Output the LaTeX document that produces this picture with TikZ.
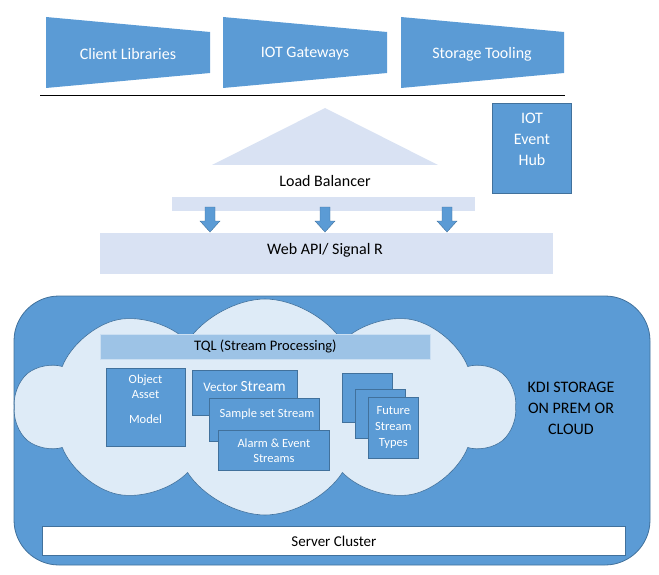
\documentclass[tikz,border=0pt]{standalone}
\usepackage{fontspec}
\setmainfont{Carlito}
\usetikzlibrary{shapes.symbols,shapes.arrows}
\definecolor{mblue}{HTML}{5B9BD5}
\definecolor{dblue}{HTML}{41719C}
\definecolor{lblue}{HTML}{D9E2F3}
\definecolor{cblue}{HTML}{DEEBF7}
\definecolor{tblue}{HTML}{9DC3E6}
\tikzset{
  blk/.style={draw=dblue, fill=mblue, line width=0.8pt, text=white, align=center, inner sep=0pt},
  lbl/.style={inner sep=0pt, align=center},
  barrow/.style={fill=mblue, draw=dblue, line width=0.4pt}
}
\begin{document}
\begin{tikzpicture}[x=1pt,y=-1pt]
\useasboundingbox (0,0) rectangle (659,575);
% top trapezoids
\fill[mblue] (46,17) -- (210,32) -- (210,73) -- (46,88) -- cycle;
\node[lbl,text=white,font=\fontsize{16}{18}\selectfont] (cl) at (128,54) {Client Libraries};
\fill[mblue] (223,17) -- (387,32) -- (387,73) -- (223,88) -- cycle;
\node[lbl,text=white,font=\fontsize{16}{18}\selectfont] (iot) at (305,54) {IOT Gateways};
\fill[mblue] (401,17) -- (564,32) -- (564,73) -- (401,88) -- cycle;
\node[lbl,text=white,font=\fontsize{16}{18}\selectfont] (st) at (482,54) {Storage Tooling};
\draw[black, line width=0.8pt] (40,95) -- (565,95);
% load balancer
\fill[lblue] (325,108) -- (438,165) -- (212,165) -- cycle;
\node[lbl,font=\fontsize{16}{18}\selectfont] (lb) at (325,181) {Load Balancer};
\fill[lblue] (172,197) rectangle (475,211);
% IOT Event hub
\node[blk, minimum width=79pt, minimum height=90pt, anchor=north west] (hub) at (492,103) {};
\node[lbl,text=white,font=\fontsize{16}{21}\selectfont] at (532,139) {IOT\\Event\\Hub};
% Web API
\fill[lblue] (100,233) rectangle (553,274);
\node[lbl,font=\fontsize{16}{18}\selectfont] (web) at (325,250) {Web API/ Signal R};
% block arrows
\foreach \ax in {210,325,447}{
  \draw[barrow] (\ax-5,207) -- (\ax+5,207) -- (\ax+5,221) -- (\ax+10,221) -- (\ax,232) -- (\ax-10,221) -- (\ax-5,221) -- cycle;
}
% storage
\draw[fill=mblue, draw=dblue, line width=0.8pt, rounded corners=45pt] (14,296) rectangle (650,565);
\node[lbl,font=\fontsize{16}{21}\selectfont] (kdi) at (571,408) {KDI STORAGE\\ON PREM OR\\CLOUD};
\node[draw=dblue, fill=white, line width=0.8pt, minimum width=583pt, minimum height=29pt, anchor=north west, inner sep=0pt, font=\fontsize{15}{17}\selectfont] (srv) at (42,526) {Server Cluster};
% cloud
\node[cloud, cloud puffs=10, cloud puff arc=115, cloud ignores aspect, draw=dblue, fill=cblue, line width=0.6pt, minimum width=500pt, minimum height=216pt] (cloud) at (265,407) {};
% TQL
\node[fill=tblue, draw=cblue!70!tblue, line width=0.8pt, minimum width=330pt, minimum height=25pt, anchor=north west, inner sep=0pt, font=\fontsize{14.5}{16}\selectfont] (tql) at (100,334) {TQL (Stream Processing)};
% object asset
\node[blk, minimum width=79pt, minimum height=78pt, anchor=north west] (obj) at (106,368) {};
\node[lbl,text=white,font=\fontsize{12.5}{15}\selectfont, anchor=north] at (145.5,375) {Object\\Asset\\[10pt]Model};
% streams
\node[blk, minimum width=105pt, minimum height=45pt, anchor=north west] (vec) at (192,370) {};
\node[lbl,text=white,anchor=base] at (244.5,391) {\fontsize{13}{15}\selectfont Vector \fontsize{15.5}{17}\selectfont Stream};
\node[blk, minimum width=110pt, minimum height=43pt, anchor=north west] (smp) at (209,398) {};
\node[lbl,text=white,font=\fontsize{12.5}{14}\selectfont] at (267,414) {Sample set Stream};
\node[blk, minimum width=111pt, minimum height=40pt, anchor=north west, font=\fontsize{12.5}{15}\selectfont] (alm) at (218,430) {Alarm \& Event\\Streams};
% future
\node[blk, minimum width=50pt, minimum height=49pt, anchor=north west] (f1) at (342,373) {};
\node[blk, minimum width=50pt, minimum height=49pt, anchor=north west] (f2) at (355,389) {};
\node[blk, minimum width=50pt, minimum height=61pt, anchor=north west, font=\fontsize{12.5}{16}\selectfont] (f3) at (368,397) {Future\\Stream\\Types};
\end{tikzpicture}
\end{document}
